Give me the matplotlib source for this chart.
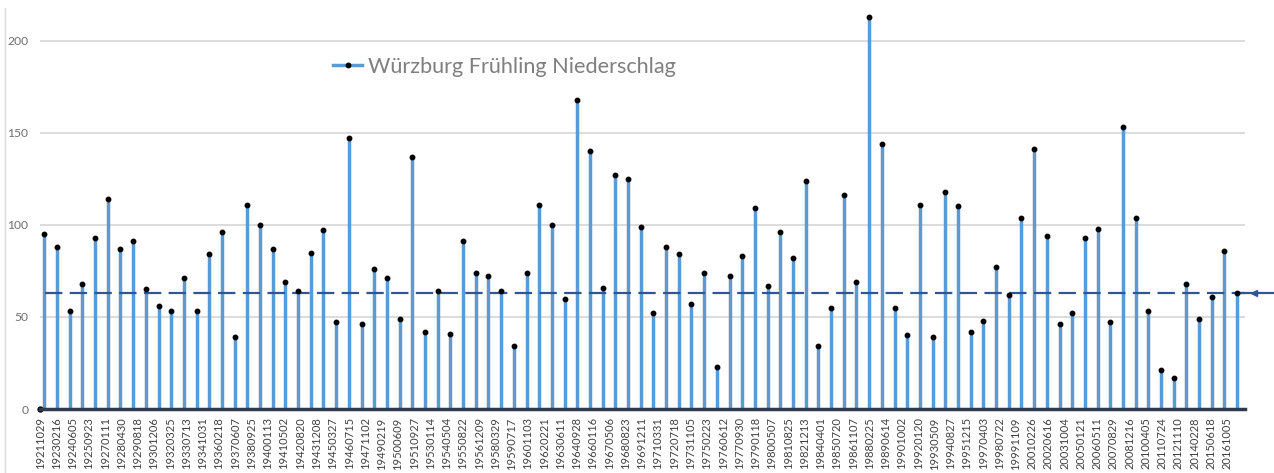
import matplotlib
matplotlib.use('Agg')
import matplotlib.pyplot as plt
import numpy as np
from matplotlib.lines import Line2D

# Niederschlag Fruehling Wuerzburg (mm), one stem per year
niederschlag = [95, 88, 53, 68, 93, 114, 87, 91, 65, 56, 53, 71, 53, 84, 96, 39, 111, 100, 87, 69, 64, 85,
                97, 47, 147, 46, 76, 71, 49, 137, 42, 64, 41, 91, 74, 72, 64, 34, 74, 111, 100, 60, 168, 140, 66, 127, 125,
                99, 52, 88, 84, 57, 74, 23, 72, 83, 109, 67, 96, 82, 124, 34, 55, 116, 69, 213, 144, 55, 40, 111, 39,
                118, 110, 42, 48, 77, 62, 104, 141, 94, 46, 52, 93, 98, 47, 153, 104, 53, 21, 17, 68, 49, 61, 86, 63]

schwelle = 63

datum_labels = ['19211029', '19230216', '19240605', '19250923', '19270111', '19280430', '19290818',
                '19301206', '19320325', '19330713', '19341031', '19360218', '19370607', '19380925',
                '19400113', '19410502', '19420820', '19431208', '19450327', '19460715', '19471102',
                '19490219', '19500609', '19510927', '19530114', '19540504', '19550822', '19561209',
                '19580329', '19590717', '19601103', '19620221', '19630611', '19640928', '19660116',
                '19670506', '19680823', '19691211', '19710331', '19720718', '19731105', '19750223',
                '19760612', '19770930', '19790118', '19800507', '19810825', '19821213', '19840401',
                '19850720', '19861107', '19880225', '19890614', '19901002', '19920120', '19930509',
                '19940827', '19951215', '19970403', '19980722', '19991109', '20010226', '20020616',
                '20031004', '20050121', '20060511', '20070829', '20081216', '20100405', '20110724',
                '20121110', '20140228', '20150618', '20161005']

legend_text = 'Würzburg Frühling Niederschlag'

plt.rcParams['font.family'] = ['Lato', 'DejaVu Sans']
plt.rcParams['lines.scale_dashes'] = False

W, H = 1274, 473
fig = plt.figure(figsize=(W / 100, H / 100), dpi=100)
ax = fig.add_axes([40 / W, 64 / H, 1205 / W, 405 / H])

# pixel layout of the stems
x0 = 44.3
dx = 12.69
xmin = (40 - x0) / dx
xmax = (1245 - x0) / dx

x = np.arange(len(niederschlag))

ax.set_xlim(xmin, xmax)
ax.set_ylim(0, 220)

ax.set_yticks([0, 50, 100, 150, 200])
ax.grid(axis='y', color='#D9D9D9', lw=1.3)
ax.set_axisbelow(True)

# stems + black dots
ax.vlines(x, 0, niederschlag, color='#5B9BD5', lw=2.5, zorder=2)
ax.plot(x, niederschlag, 'o', color='black', ms=3.2, zorder=4)

# dashed reference line
ax.plot([(45 - x0) / dx, xmax], [schwelle, schwelle], color='#2F5597', lw=1.6,
        linestyle=(0, (12.5, 5.3)), zorder=3)
xend = (1274 - x0) / dx
ax.plot([(1240 - x0) / dx, xend], [schwelle, schwelle], color='#2F5597', lw=1.6,
        clip_on=False, zorder=3)
ax.plot([(1254 - x0) / dx], [schwelle], marker='<', color='#2F5597', ms=5, clip_on=False, zorder=3)

# dot at the axis start
ax.plot([xmin], [0], 'o', color='black', ms=3.5, clip_on=False, zorder=5)

# date labels
tick_pos = xmin + 0.01 + np.arange(len(datum_labels)) * 1.2814
ax.set_xticks(tick_pos)
ax.set_xticklabels(datum_labels, rotation=90, fontsize=8, color='#404040')

for s in ['top', 'right', 'left']:
    ax.spines[s].set_visible(False)
ax.spines['bottom'].set_color('#2E3B4E')
ax.spines['bottom'].set_linewidth(2.5)
ax.spines['bottom'].set_zorder(6)

ax.tick_params(axis='y', length=0, pad=8.5, labelsize=8.7, labelcolor='#6E6E6E')
ax.tick_params(axis='x', length=0, pad=6)

# legend
handle = Line2D([], [], color='#5B9BD5', lw=2.5, marker='o', ms=3.2,
                markerfacecolor='black', markeredgecolor='black')
leg = ax.legend([handle], [legend_text], loc='center left', numpoints=1,
                bbox_to_anchor=(333 / W, 1 - 67 / H), bbox_transform=fig.transFigure,
                frameon=False, borderpad=0, borderaxespad=0,
                handlelength=1.35, handletextpad=0.28, fontsize=15.6)
for t in leg.get_texts():
    t.set_color('#7F7F7F')

# left border of the chart area
fig.add_artist(Line2D([4.5 / W, 4.5 / W], [0, 1 - 8 / H], transform=fig.transFigure,
                      color='#D9D9D9', lw=1))

fig.savefig('out.png', dpi=100)
